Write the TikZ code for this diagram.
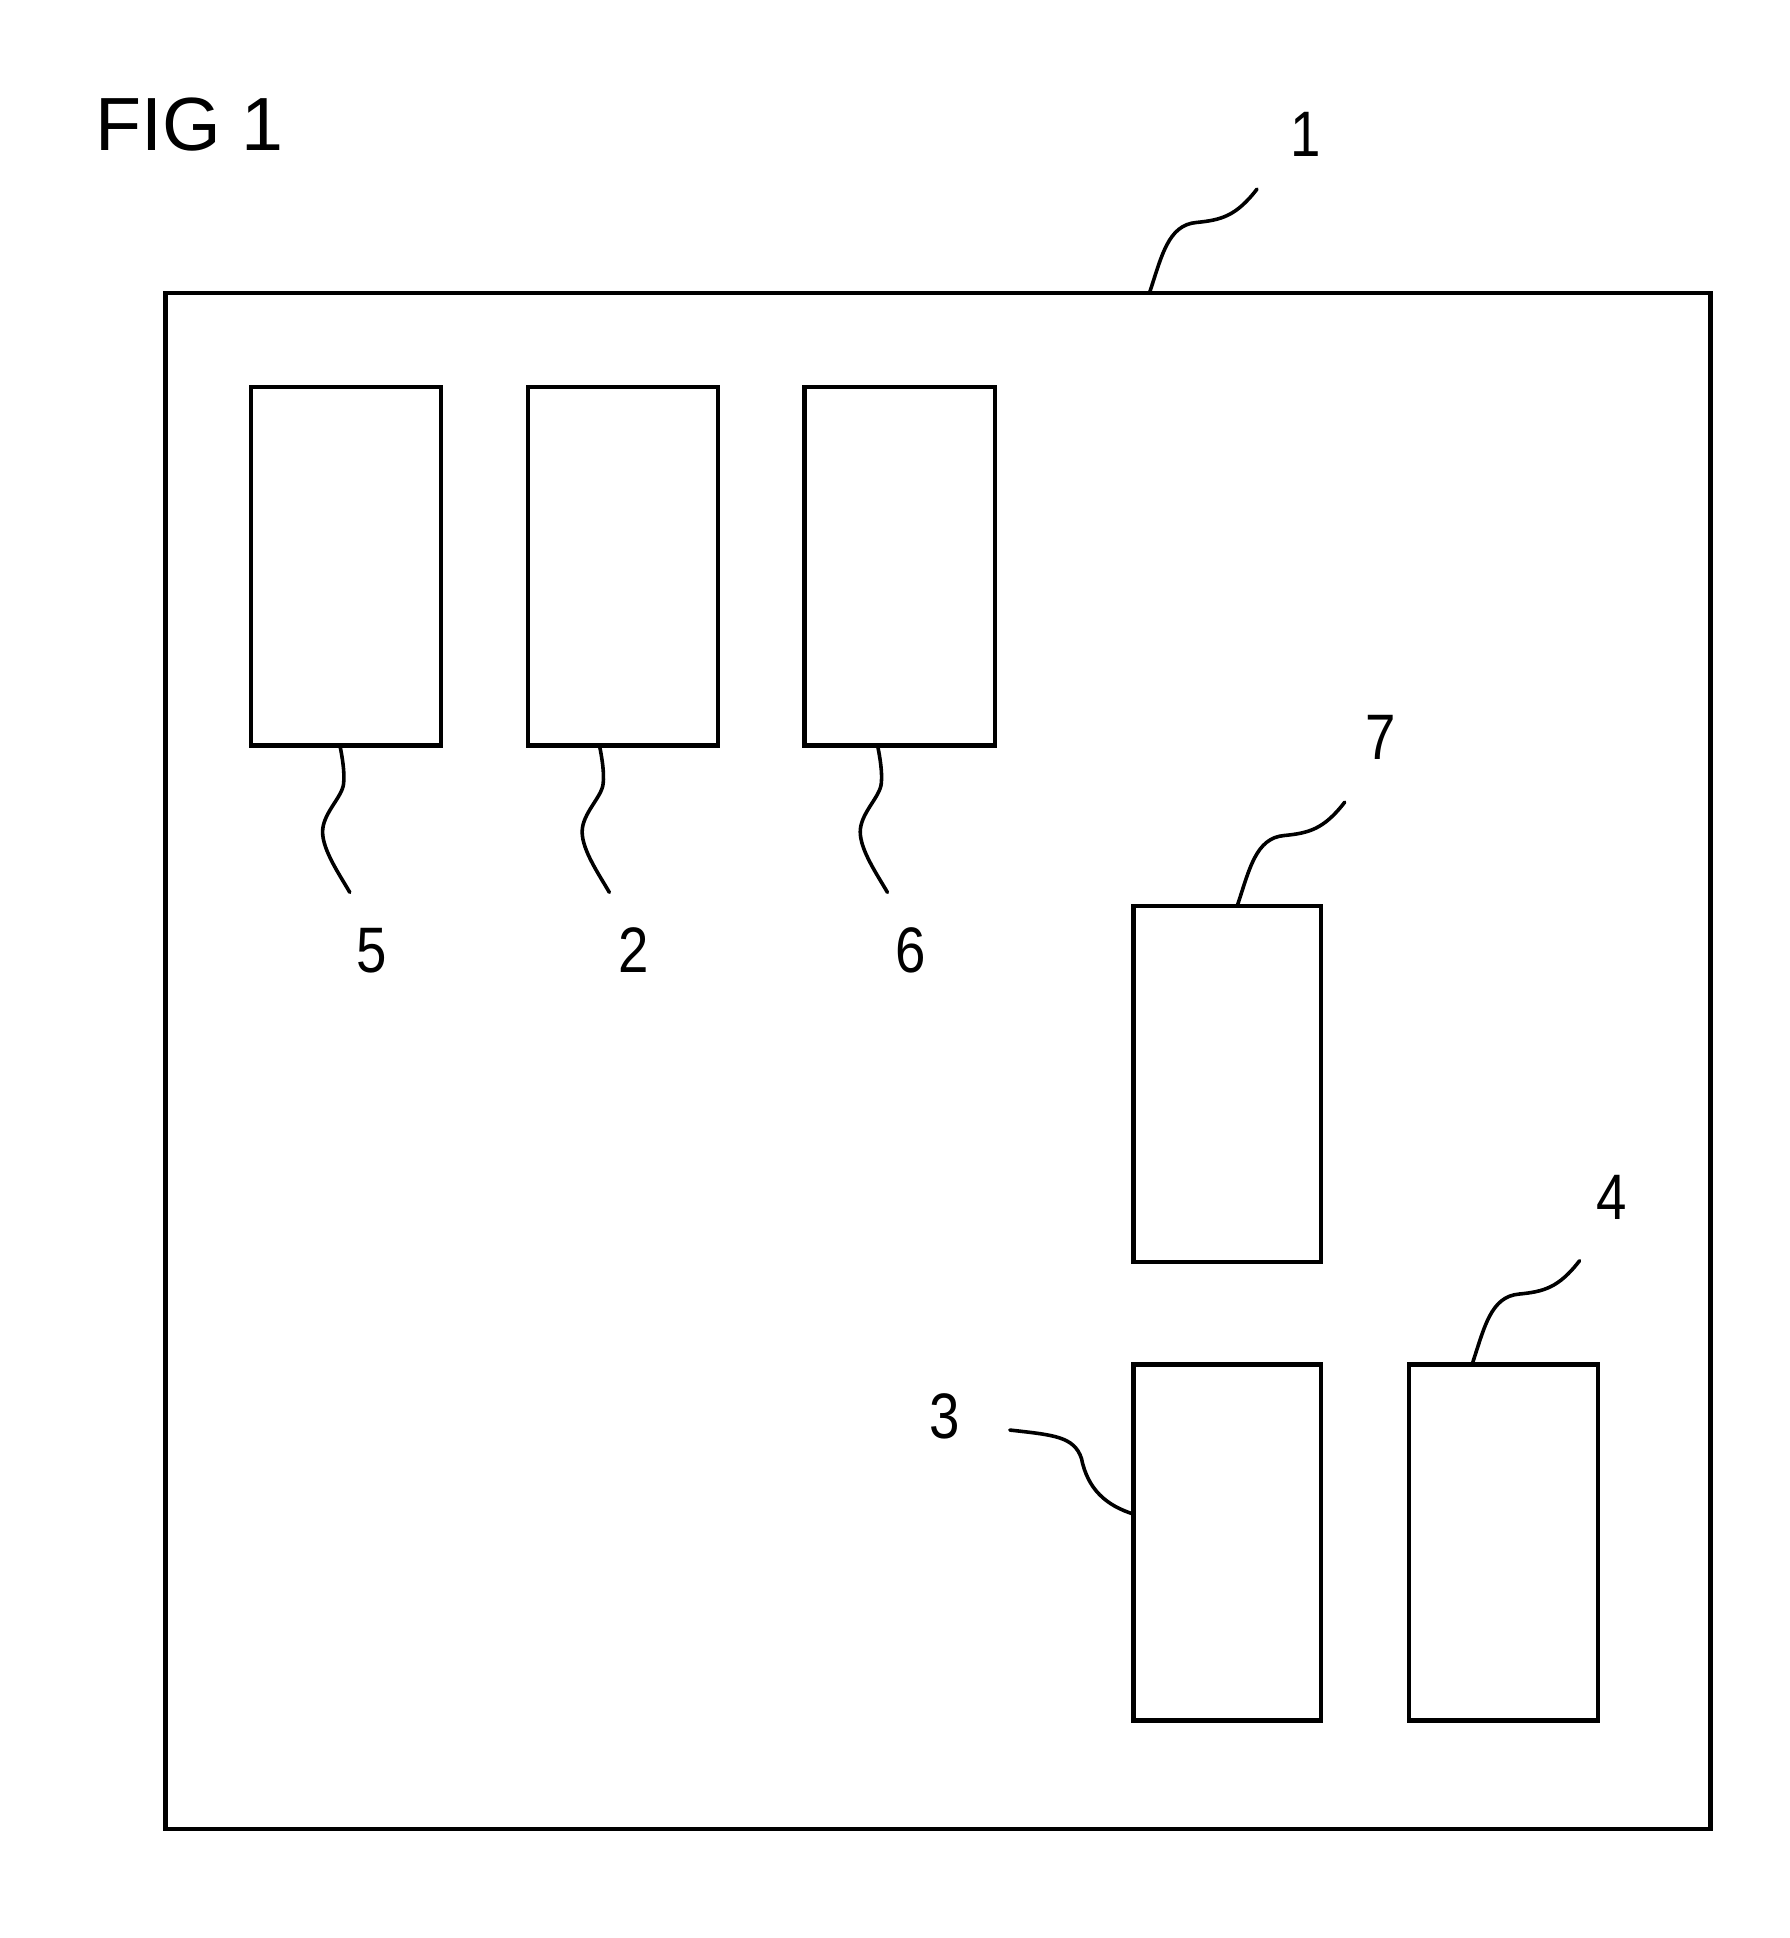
\documentclass[tikz,border=0pt]{standalone}
\usepackage{fontspec}
\setmainfont{Liberation Sans}
\usetikzlibrary{calc}
\tikzset{
  box/.style={draw=black, line width=3.6pt, minimum width=154pt, minimum height=290pt, inner sep=0pt, outer sep=0pt},
  lead/.style={draw=black, line width=2.9pt, line cap=round},
  lbl/.style={inner sep=0pt, outer sep=0pt, font=\fontsize{52}{52}\selectfont},
}
\newcommand{\narrowdigit}[1]{\scalebox{0.85}[1]{#1}}
\begin{document}
\begin{tikzpicture}[x=1pt,y=-1pt]
\useasboundingbox (0,0) rectangle (1448,1568);
% title
\node[anchor=base west, inner sep=0pt, font=\fontsize{61}{61}\selectfont] (fig) at (77,122) {FIG 1};
% outer frame
\node[box, minimum width=1250pt, minimum height=1243pt] (outer) at (759,858.5) {};
% boxes
\node[box] (b5) at (280,458) {};
\node[box] (b2) at (504,458) {};
\node[box] (b6) at (728,458) {};
\node[box, minimum width=152pt, minimum height=288pt] (b7) at (993,877) {};
\node[box, minimum width=152pt, minimum height=288pt] (b3) at (993,1248) {};
\node[box, minimum width=153pt, minimum height=288pt] (b4) at (1216.5,1248) {};
% labels
\node[lbl] (l1) at (1056,109) {\narrowdigit{1}};
\node[lbl] (l5) at (301,769) {\narrowdigit{5}};
\node[lbl] (l2) at (513,769) {\narrowdigit{2}};
\node[lbl] (l6) at (737,769) {\narrowdigit{6}};
\node[lbl] (l7) at (1117,597) {\narrowdigit{7}};
\node[lbl] (l4) at (1304,969) {\narrowdigit{4}};
\node[lbl] (l3) at (764,1146) {\narrowdigit{3}};
% leader start points
\coordinate (s1) at ($(outer.north west)+(796,0)$);
\coordinate (s7) at ($(b7.north west)+(84,0)$);
\coordinate (s4) at ($(b4.north west)+(51,0)$);
\coordinate (s5) at ($(b5.south)+(-5,0)$);
\coordinate (s2) at ($(b2.south)+(-19,0)$);
\coordinate (s6) at ($(b6.south)+(-18,0)$);
\coordinate (s3) at ($(b3.west)+(0,-23)$);
% upward S leaders (1, 7, 4)
\foreach \s/\t in {s1/e1, s7/e7, s4/e4}{
  \draw[lead] (\s) .. controls +(10,-30) and +(-23,2) .. ++(38,-57)
     .. controls +(20,-2) and +(-17,22) .. ++(49,-27) coordinate (\t);
}
% downward leaders (5, 2, 6)
\foreach \s/\t in {s5/e5, s2/e2, s6/e6}{
  \draw[lead] (\s) .. controls +(2,10) and +(1,-9) .. ++(3,31)
     .. controls +(-1,11) and +(0,-15) .. ++(-17,39)
     .. controls +(0,15) and +(-8,-14) .. ++(22,49) coordinate (\t);
}
% leader 3
\draw[lead] (s3) .. controls +(-22,-7) and +(5,25) .. ++(-42,-45)
   .. controls +(-6,-18) and +(35,4) .. ++(-58,-23) coordinate (e3);
\end{tikzpicture}
\end{document}
